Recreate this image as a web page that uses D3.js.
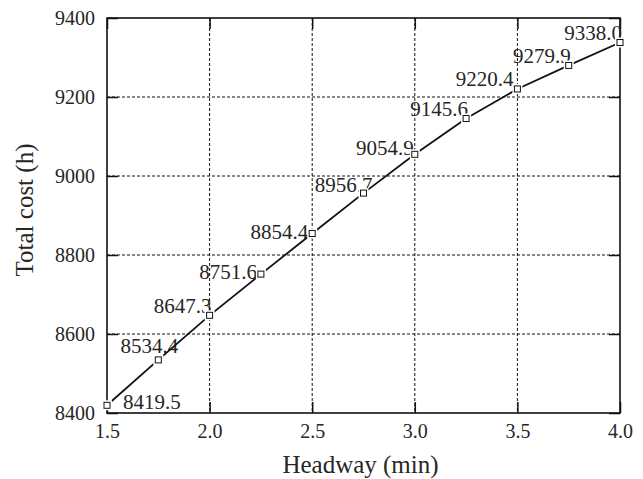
<!DOCTYPE html>
<html>
<head>
<meta charset="utf-8">
<script src="https://cdn.jsdelivr.net/npm/d3@7"></script>
<style>
  body { margin: 0; background: #fff; }
  svg text { font-family: "Liberation Serif", serif !important; fill: #262626; }
</style>
</head>
<body>
<script>
const headway = [1.5, 1.75, 2.0, 2.25, 2.5, 2.75, 3.0, 3.25, 3.5, 3.75, 4.0];
const totalCost = [8419.5, 8534.4, 8647.3, 8751.6, 8854.4, 8956.7, 9054.9, 9145.6, 9220.4, 9279.9, 9338.0];
const xTicks = [1.5, 2.0, 2.5, 3.0, 3.5, 4.0];
const yTicks = [8400, 8600, 8800, 9000, 9200, 9400];

const width = 643;
const height = 479;
const margin = {top: 18, right: 23, bottom: 66, left: 107};
const innerW = width - margin.left - margin.right;
const innerH = height - margin.top - margin.bottom;

const data = headway.map((h, i) => ({h: h, cost: totalCost[i]}));

const svg = d3.select("body").append("svg")
      .attr("width", width)
      .attr("height", height)
      .attr("font-family", "Liberation Serif, serif");

const g = svg.append("g")
      .attr("transform", `translate(${margin.left}, ${margin.top})`);

const xScale = d3.scaleLinear().domain([1.5, 4.0]).range([0, innerW]);
const yScale = d3.scaleLinear().domain([8400, 9400]).range([innerH, 0]);

// dashed grid
g.append("g").selectAll("line")
      .data(xTicks.slice(1, -1))
      .join("line")
      .attr("x1", d => xScale(d)).attr("x2", d => xScale(d))
      .attr("y1", 0).attr("y2", innerH)
      .attr("stroke", "#111").attr("stroke-width", 1)
      .attr("stroke-dasharray", "3,2");

g.append("g").selectAll("line")
      .data(yTicks.slice(1, -1))
      .join("line")
      .attr("x1", 0).attr("x2", innerW)
      .attr("y1", d => yScale(d)).attr("y2", d => yScale(d))
      .attr("stroke", "#111").attr("stroke-width", 1)
      .attr("stroke-dasharray", "3,2");

// axes with inward ticks
const tick = 11;
const xAxis = g.append("g")
      .attr("transform", `translate(0, ${innerH})`)
      .call(d3.axisBottom(xScale).tickValues(xTicks).tickFormat(d3.format(".1f"))
            .tickSizeInner(-tick).tickSizeOuter(0).tickPadding(11));
const yAxis = g.append("g")
      .call(d3.axisLeft(yScale).tickValues(yTicks).tickFormat(d3.format("d"))
            .tickSizeInner(-tick).tickSizeOuter(0).tickPadding(12));
g.append("g")
      .call(d3.axisTop(xScale).tickValues(xTicks).tickFormat("").tickSizeInner(-tick).tickSizeOuter(0));
g.append("g")
      .attr("transform", `translate(${innerW}, 0)`)
      .call(d3.axisRight(yScale).tickValues(yTicks).tickFormat("").tickSizeInner(-tick).tickSizeOuter(0));

g.selectAll("g").attr("font-family", "Liberation Serif, serif");
g.selectAll(".domain").remove();
g.selectAll(".tick line").attr("stroke", "#111").attr("stroke-width", 1.5);
// ticks point inward, so labels are placed relative to the axis line
xAxis.selectAll(".tick text").attr("y", 11).attr("font-size", 20);
yAxis.selectAll(".tick text").attr("x", -12).attr("font-size", 20);

g.append("rect")
      .attr("width", innerW).attr("height", innerH)
      .attr("fill", "none").attr("stroke", "#111").attr("stroke-width", 1.6);

// axis titles
svg.append("text")
      .attr("x", margin.left + innerW / 2 - 3)
      .attr("y", 473)
      .attr("text-anchor", "middle")
      .attr("font-size", 25)
      .text("Headway (min)");

svg.append("text")
      .attr("transform", `translate(33, 210) rotate(-90)`)
      .attr("text-anchor", "middle")
      .attr("font-size", 25)
      .text("Total cost (h)");

// value labels (drawn under the markers)
const labelShift = i => {
      if (i === 0) return {dx: 16, dy: 4, anchor: "start"};
      if (i === 1) return {dx: 20, dy: -7, anchor: "end"};
      if (i === 3 || i === 4) return {dx: -4, dy: 5, anchor: "end"};
      if (i === 5) return {dx: 9, dy: -1, anchor: "end"};
      if (i === 6) return {dx: -1, dy: 1, anchor: "end"};
      if (i === 8) return {dx: -4, dy: -3, anchor: "end"};
      return {dx: 2, dy: -2, anchor: "end"};
};

g.append("g").selectAll("text")
      .data(data)
      .join("text")
      .attr("x", (d, i) => xScale(d.h) + labelShift(i).dx)
      .attr("y", (d, i) => yScale(d.cost) + labelShift(i).dy)
      .attr("text-anchor", (d, i) => labelShift(i).anchor)
      .attr("font-size", 21)
      .text(d => d.cost.toFixed(1));

g.append("path")
      .datum(data)
      .attr("fill", "none")
      .attr("stroke", "#111")
      .attr("stroke-width", 1.8)
      .attr("d", d3.line().x(d => xScale(d.h)).y(d => yScale(d.cost)));

// white halo leaves a small gap in the line around each marker
const m = 6;
g.append("g").selectAll("rect")
      .data(data)
      .join("rect")
      .attr("x", d => xScale(d.h) - m / 2)
      .attr("y", d => yScale(d.cost) - m / 2)
      .attr("width", m).attr("height", m)
      .attr("fill", "#fff")
      .attr("stroke", "#fff")
      .attr("stroke-width", 4);

g.append("g").selectAll("rect")
      .data(data)
      .join("rect")
      .attr("x", d => xScale(d.h) - m / 2)
      .attr("y", d => yScale(d.cost) - m / 2)
      .attr("width", m).attr("height", m)
      .attr("fill", "#fff")
      .attr("stroke", "#111")
      .attr("stroke-width", 1);
</script>
</body>
</html>
